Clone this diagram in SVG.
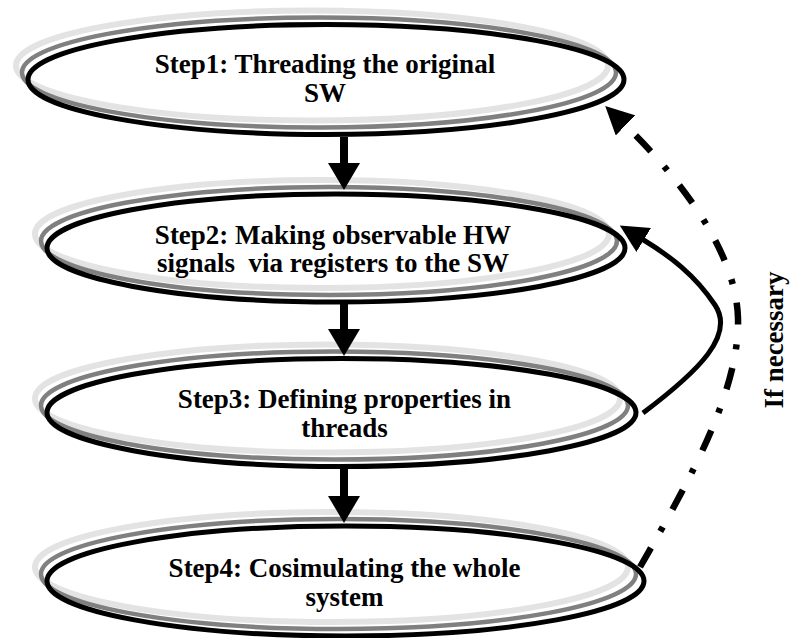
<svg xmlns="http://www.w3.org/2000/svg" width="792" height="638" viewBox="0 0 792 638">
<style>
  .lg { fill: none; stroke: #e3e3e3; stroke-width: 6; }
  .dg { fill: none; stroke: #808080; stroke-width: 4.5; }
  .bk { fill: none; stroke: #000; stroke-width: 5; }
  .lbl { font-family: "Liberation Serif", "Times New Roman", serif; font-weight: bold; font-size: 27px; fill: #000; text-anchor: middle; white-space: pre; }
  .shaft { fill: none; stroke: #000; stroke-width: 8; }
  .loop { fill: none; stroke: #000; stroke-width: 5; }
  .dashdot { fill: none; stroke: #000; stroke-width: 6.5; stroke-dasharray: 22 19 5 20; }
</style>
<defs>
  <marker id="headV" viewBox="0 0 27 32" refX="0" refY="16" markerWidth="27" markerHeight="32" markerUnits="userSpaceOnUse" orient="auto">
    <path d="M0,0 L27,16 L0,32 Z" fill="#000"/>
  </marker>
  <marker id="headC" viewBox="0 0 28 28" refX="2" refY="14" markerWidth="28" markerHeight="28" markerUnits="userSpaceOnUse" orient="auto">
    <path d="M0,0 L28,14 L0,28 Z" fill="#000"/>
  </marker>
</defs>

<g id="step1">
  <ellipse class="lg" cx="312" cy="65.5" rx="296" ry="55"/>
  <ellipse class="dg" cx="319" cy="72.5" rx="297" ry="55"/>
  <ellipse class="bk" cx="326" cy="79.5" rx="298" ry="55"/>
  <text class="lbl" x="325" y="73">Step1: Threading the original</text>
  <text class="lbl" x="325" y="102">SW</text>
</g>

<g id="step2">
  <ellipse class="lg" cx="322" cy="234" rx="287" ry="54"/>
  <ellipse class="dg" cx="329" cy="241" rx="288" ry="54"/>
  <ellipse class="bk" cx="336" cy="248" rx="289" ry="54"/>
  <text class="lbl" x="333" y="244">Step2: Making observable HW</text>
  <text class="lbl" x="333" y="272">signals  via registers to the SW</text>
</g>

<g id="step3">
  <ellipse class="lg" cx="327.5" cy="398.5" rx="292.5" ry="54"/>
  <ellipse class="dg" cx="334.5" cy="405.5" rx="293.5" ry="54"/>
  <ellipse class="bk" cx="341.5" cy="412.5" rx="294.5" ry="54"/>
  <text class="lbl" x="344.5" y="408">Step3: Defining properties in</text>
  <text class="lbl" x="344.5" y="437">threads</text>
</g>

<g id="step4">
  <ellipse class="lg" cx="331.5" cy="567" rx="296.5" ry="55"/>
  <ellipse class="dg" cx="338.5" cy="574" rx="297.5" ry="55"/>
  <ellipse class="bk" cx="345.5" cy="581" rx="298.5" ry="55"/>
  <text class="lbl" x="344.5" y="577">Step4: Cosimulating the whole</text>
  <text class="lbl" x="344.5" y="606">system</text>
</g>

<g id="connectors">
  <path class="shaft" d="M344,137 L344,163" marker-end="url(#headV)"/>
  <path class="shaft" d="M344,303 L344,329" marker-end="url(#headV)"/>
  <path class="shaft" d="M344,468 L344,496" marker-end="url(#headV)"/>
  <path class="loop" d="M643,413 C700,370 735,335 715,305 S670,256 642,239" marker-end="url(#headC)"/>
  <path class="dashdot" d="M640,567 C690,480 740,390 738,318 C736,246 670,168 624,124" marker-end="url(#headC)"/>
</g>

<g id="label-if-necessary">
  <text class="lbl" transform="translate(783,340) rotate(-90)">If necessary</text>
</g>
</svg>
